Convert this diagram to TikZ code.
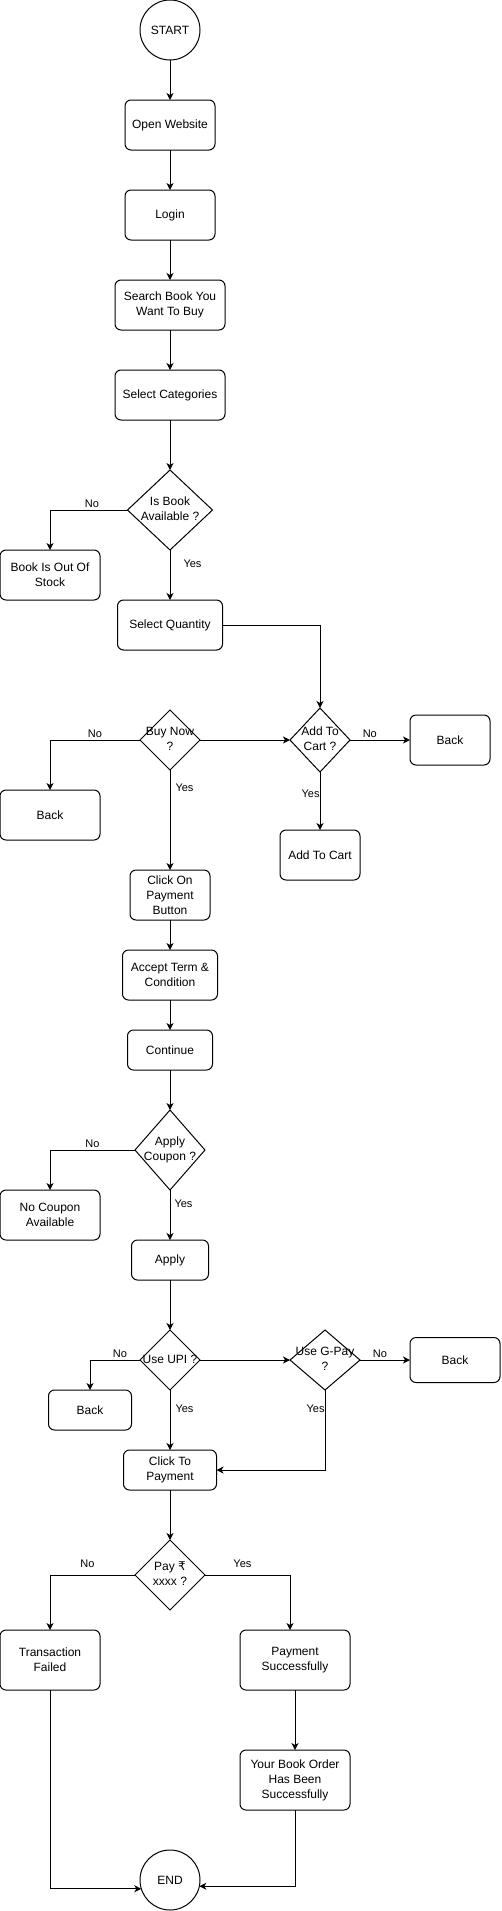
\documentclass[tikz,border=0pt]{standalone}
\usepackage{fontspec}
\setmainfont{Liberation Sans}
\newfontfamily\rupeefont{DejaVu Sans}
\usepackage{tikz}
\usetikzlibrary{positioning, arrows.meta, shapes.geometric}

\newcommand{\dtxt}[1]{\makebox[0pt]{\begin{tabular}{@{}c@{}}#1\end{tabular}}}

\begin{document}
\begin{tikzpicture}[x=1pt, y=1pt, line width=1pt,
    >={Stealth[length=7pt, width=7pt, inset=2pt]},
    font=\fontsize{12}{15}\selectfont,
    terminal/.style={circle, draw, minimum size=60pt, inner sep=0pt, outer sep=0pt},
    process/.style={rectangle, draw, rounded corners=6pt, align=center, inner sep=0pt, outer sep=0pt},
    decision/.style={diamond, draw, inner sep=0pt, outer sep=0pt},
    lbl/.style={font=\fontsize{11}{13}\selectfont, inner sep=2pt}]

    \useasboundingbox (0,0) rectangle (501,-1911);

    \node (start) [terminal] at (170,-30) {START};

    \node (open) [process, minimum width=90pt, minimum height=50pt, below=40pt of start] {Open Website};

    \node (login) [process, minimum width=90pt, minimum height=50pt, below=40pt of open] {Login};

    \node (search) [process, minimum width=110pt, minimum height=50pt, below=40pt of login] {Search Book You\\Want To Buy};

    \node (categ) [process, minimum width=110pt, minimum height=50pt, below=40pt of search] {Select Categories};

    \node (isbook) [decision, minimum width=85pt, minimum height=80pt, below=50pt of categ] {\dtxt{Is Book\\Available ?}};

    \node (outstock) [process, minimum width=100pt, minimum height=50pt, below left=40pt and 27.5pt of isbook.west] {Book Is Out Of\\Stock};

    \node (qty) [process, minimum width=105pt, minimum height=50pt, below=50pt of isbook] {Select Quantity};

    \node (buynow) [decision, minimum width=60pt, minimum height=60pt, below=60pt of qty] {\dtxt{Buy Now\\?}};

    \node (addq) [decision, minimum width=60pt, minimum height=64pt, right=90pt of buynow] {\dtxt{Add To\\Cart ?}};

    \node (backa) [process, minimum width=100pt, minimum height=50pt, below left=50pt and 40pt of buynow.west] {Back};

    \node (backb) [process, minimum width=80pt, minimum height=50pt, right=60pt of addq] {Back};

    \node (addcart) [process, minimum width=80pt, minimum height=50pt, below=58pt of addq] {Add To Cart};

    \node (clickpay) [process, minimum width=80pt, minimum height=50pt, below=100pt of buynow] {Click On\\Payment\\Button};

    \node (accept) [process, minimum width=95pt, minimum height=50pt, below=30pt of clickpay] {Accept Term \&\\Condition};

    \node (cont) [process, minimum width=85pt, minimum height=40pt, below=30pt of accept] {Continue};

    \node (coupon) [decision, minimum width=70pt, minimum height=80pt, below=40pt of cont] {\dtxt{Apply\\Coupon ?}};

    \node (nocoupon) [process, minimum width=100pt, minimum height=50pt, below left=40pt and 35pt of coupon.west] {No Coupon\\Available};

    \node (apply) [process, minimum width=77pt, minimum height=40pt, below=50pt of coupon] {Apply};

    \node (upi) [decision, minimum width=60pt, minimum height=60pt, below=50pt of apply] {\dtxt{Use UPI ?}};

    \node (gpay) [decision, minimum width=70pt, minimum height=60pt, right=90pt of upi] {\dtxt{Use G-Pay\\?}};

    \node (backc) [process, minimum width=83pt, minimum height=40pt, below left=30pt and 8.5pt of upi.west] {Back};

    \node (backd) [process, minimum width=90pt, minimum height=45pt, right=50pt of gpay] {Back};

    \node (clickto) [process, minimum width=93pt, minimum height=40pt, below=60pt of upi] {Click To\\Payment};

    \node (pay) [decision, minimum width=70pt, minimum height=70pt, below=50pt of clickto] {\dtxt{Pay {\rupeefont ₹}\\xxxx ?}};

    \node (failed) [process, minimum width=100pt, minimum height=60pt, below left=55pt and 35pt of pay.west] {Transaction\\Failed};

    \node (paysucc) [process, minimum width=110pt, minimum height=60pt, below right=55pt and 35pt of pay.east] {Payment\\Successfully};

    \node (order) [process, minimum width=110pt, minimum height=60pt, below=60pt of paysucc] {Your Book Order\\Has Been\\Successfully};

    \node (end) [terminal, below=240pt of pay] {END};

    \draw[->] (start) -- (open);

    \draw[->] (open) -- (login);

    \draw[->] (login) -- (search);

    \draw[->] (search) -- (categ);

    \draw[->] (categ) -- (isbook);

    \draw[->] (isbook.west) -| node[lbl, above, pos=0.23] {No} (outstock.north);

    \draw[->] (isbook) -- node[lbl, right, pos=0.28, xshift=11pt] {Yes} (qty);

    \draw[->] (qty.east) -| (addq.north);

    \draw[->] (buynow) -- (addq);

    \draw[->] (buynow.west) -| node[lbl, above, pos=0.25] {No} (backa.north);

    \draw[->] (buynow) -- node[lbl, right, pos=0.18, xshift=3pt] {Yes} (clickpay);

    \draw[->] (addq) -- node[lbl, above, pos=0.33] {No} (backb);

    \draw[->] (addq) -- node[lbl, left, pos=0.38, xshift=2pt] {Yes} (addcart);

    \draw[->] (clickpay) -- (accept);

    \draw[->] (accept) -- (cont);

    \draw[->] (cont) -- (coupon);

    \draw[->] (coupon.west) -| node[lbl, above, pos=0.25] {No} (nocoupon.north);

    \draw[->] (coupon) -- node[lbl, right, pos=0.28, xshift=2pt] {Yes} (apply);

    \draw[->] (apply) -- (upi);

    \draw[->] (upi.west) -| node[lbl, above, pos=0.2] {No} (backc.north);

    \draw[->] (upi) -- (gpay);

    \draw[->] (gpay) -- node[lbl, above, pos=0.4] {No} (backd);

    \draw[->] (upi) -- node[lbl, right, pos=0.32, xshift=3pt] {Yes} (clickto);

    \draw[->] (gpay.south) |- node[lbl, left, pos=0.12, xshift=2pt] {Yes} (clickto.east);

    \draw[->] (clickto) -- (pay);

    \draw[->] (pay.west) -| node[lbl, above, pos=0.28, yshift=5pt] {No} (failed.north);

    \draw[->] (pay.east) -| node[lbl, above, pos=0.22, yshift=5pt] {Yes} ([xshift=-5pt]paysucc.north);

    \draw[->] (paysucc) -- (order);

    \draw[->] (failed.south) |- (end.197);

    \draw[->] (order.south) |- (end.348);

\end{tikzpicture}
\end{document}
